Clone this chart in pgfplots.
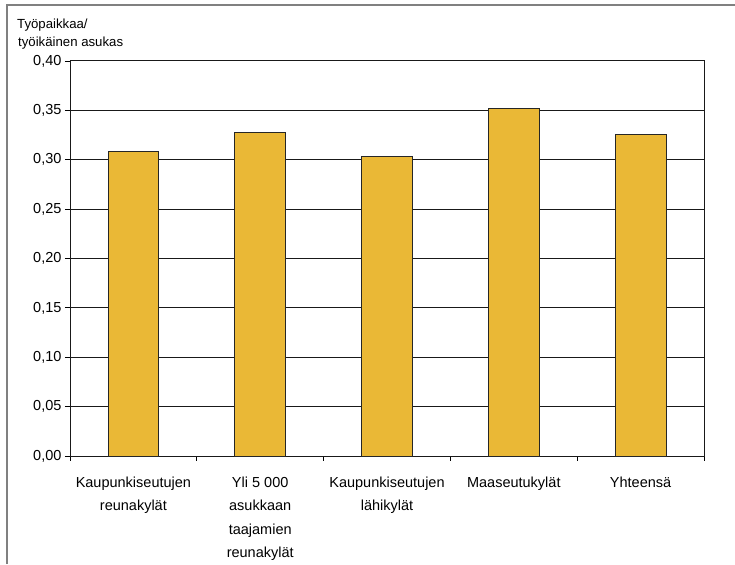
\documentclass[border=0pt]{standalone}
\usepackage{pgfplots}
\pgfplotsset{compat=1.18}
\usepackage{fontspec}
\setmainfont{Liberation Sans}
\definecolor{barc}{HTML}{EAB836}
\begin{document}
\begin{tikzpicture}[x=1pt,y=1pt]
\path[use as bounding box] (0,0) rectangle (735,564);
\draw[gray, line width=1.3pt] (7,0) -- (7,559) -- (735,559);
\node[anchor=base west, font=\fontsize{13.2}{15}\selectfont, inner sep=0] at (17,535) {Työpaikkaa/};
\node[anchor=base west, font=\fontsize{13.2}{15}\selectfont, inner sep=0] at (18,517) {työikäinen asukas};
\begin{axis}[
  at={(70pt,108pt)}, anchor=south west,
  scale only axis, width=634pt, height=395pt,
  xmin=-0.5, xmax=4.5, ymin=0, ymax=0.4,
  ytick={0,0.05,...,0.41},
  xtick={0,1,2,3,4},
  xticklabels={{Kaupunkiseutujen\\reunakylät},{Yli 5 000\\asukkaan\\taajamien\\reunakylät},{Kaupunkiseutujen\\lähikylät},{Maaseutukylät},{Yhteensä}},
  minor xtick={-0.5,0.5,...,4.6},
  major x tick style={draw=none},
  minor tick length=5pt,
  major tick length=5pt,
  tick align=outside,
  xtick pos=bottom, ytick pos=left,
  tick style={black, line width=0.8pt},
  ymajorgrids, grid style={black!90, line width=1pt},
  axis line style={black!90, line width=1pt},
  /pgf/number format/.cd, fixed, fixed zerofill, precision=2, use comma, assume math mode=true,
  /pgfplots/.cd,
  yticklabel style={font=\fontsize{14.5}{16}\selectfont},
  xticklabel style={font=\fontsize{14.5}{23.5}\selectfont, align=center, anchor=north, yshift=-12pt},
  ybar, bar width=0.4,
]
\addplot[fill=barc, draw=black!85, line width=0.8pt] coordinates {(0,0.308) (1,0.328) (2,0.303) (3,0.352) (4,0.326)};
\end{axis}
\end{tikzpicture}
\end{document}
